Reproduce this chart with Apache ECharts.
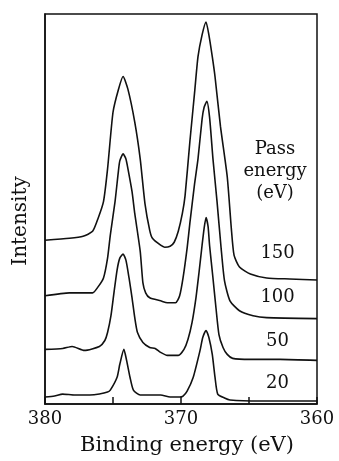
<!DOCTYPE html>
<html>
<head>
<meta charset="utf-8">
<script src="https://cdn.jsdelivr.net/npm/echarts@6/dist/echarts.min.js"></script>
<style>
  html, body { margin: 0; padding: 0; background: #fff; }
  #chart { width: 339px; height: 461px; }
</style>
</head>
<body>
<div id="chart"></div>
<script>
// Ag 3d spectra recorded at four analyser pass energies (stacked, offset intensity)
const passEnergies = ['150', '100', '50', '20'];

const energy150 = [380.0, 378.2, 377.2, 376.5, 376.1, 375.7, 375.4, 375.0, 374.6, 374.26, 373.9, 373.4, 373.0, 372.65, 372.3, 372.1, 371.5, 371.2, 370.8, 370.5, 370.2, 369.9, 369.7, 369.35, 369.0, 368.75, 368.45, 368.16, 367.95, 367.7, 367.5, 367.1, 366.6, 366.3, 366.1, 365.7, 364.9, 363.7, 362.0, 360.0];
const counts150 = [165, 167, 169, 174, 187, 204, 237, 294, 317, 330, 317, 284, 247, 202, 175, 167, 160, 158, 159, 163, 174, 192, 210, 264, 314, 350, 372, 385, 372, 350, 330, 280, 229, 177, 150, 138, 131, 127, 126, 125];

const energy100 = [380.0, 378.2, 376.5, 376.1, 375.7, 375.4, 375.2, 374.85, 374.6, 374.5, 374.26, 374.05, 373.9, 373.6, 373.4, 373.0, 372.8, 372.6, 372.3, 371.5, 371.0, 370.4, 370.1, 369.85, 369.55, 369.35, 369.0, 368.75, 368.45, 368.3, 368.1, 367.9, 367.65, 367.35, 367.05, 366.8, 366.4, 365.7, 364.7, 363.7, 360.0];
const counts100 = [109, 112, 112, 118, 127, 147, 170, 204, 235, 245, 252, 247, 237, 214, 192, 154, 122, 112, 107, 104, 102, 102, 109, 127, 157, 182, 222, 247, 287, 299, 305, 289, 247, 204, 157, 124, 104, 94, 89, 87, 86];

const energy50 = [380.0, 378.7, 378.0, 377.1, 376.0, 375.6, 375.4, 375.15, 374.93, 374.7, 374.5, 374.26, 374.05, 373.82, 373.6, 373.4, 373.2, 372.8, 372.3, 371.9, 371.5, 371.0, 370.2, 369.78, 369.49, 369.19, 368.9, 368.68, 368.45, 368.3, 368.16, 368.01, 367.9, 367.65, 367.43, 367.21, 366.91, 366.6, 366.2, 364.9, 362.72, 360.0];
const counts50 = [55, 56, 58, 54, 58, 64, 72, 89, 112, 135, 147, 151, 145, 127, 107, 87, 72, 62, 57, 56, 52, 49, 49, 55, 65, 82, 107, 132, 160, 177, 188, 179, 160, 127, 97, 70, 57, 50, 46, 45, 45, 44];

const energy20 = [380.0, 379.3, 378.7, 377.8, 376.7, 376.0, 375.4, 375.2, 374.7, 374.5, 374.2, 374.0, 373.75, 373.5, 373.0, 372.3, 371.5, 370.8, 370.1, 369.85, 369.55, 369.1, 368.6, 368.4, 368.16, 367.95, 367.7, 367.5, 367.3, 366.8, 366.4, 364.2, 360.0];
const counts20 = [7, 8, 10, 9, 9, 10, 12, 14, 27, 40, 55, 44, 27, 14, 9, 9, 9, 7, 7, 8, 13, 27, 54, 67, 74, 67, 50, 27, 10, 6, 4, 3, 3];

// where each pass-energy tag sits (binding energy, offset intensity)
const tagEnergy = 362.9;
const tagLevels = [152, 107, 63, 21];

const xLabelled = [380, 370, 360];

const spectra = [
  [energy150, counts150],
  [energy100, counts100],
  [energy50, counts50],
  [energy20, counts20]
];

const INK = '#111';
const FONT = 'DejaVu Serif';

const chart = echarts.init(document.getElementById('chart'), null, { renderer: 'canvas' });

const series = spectra.map(([e, c], i) => ({
  name: passEnergies[i],
  type: 'line',
  showSymbol: false,
  smooth: 0.2,
  silent: true,
  lineStyle: { color: INK, width: 1.6 },
  data: e.map((v, k) => [v, c[k]]),
  markPoint: {
    symbol: 'circle',
    symbolSize: 1,
    itemStyle: { color: 'rgba(0,0,0,0)' },
    label: {
      show: true,
      position: 'inside',
      formatter: passEnergies[i],
      color: INK,
      fontFamily: FONT,
      fontSize: 18
    },
    data: [{ coord: [tagEnergy, tagLevels[i]] }]
  }
}));

chart.setOption({
  animation: false,
  backgroundColor: '#fff',
  grid: {
    left: 45, right: 22, top: 14, bottom: 54,
    show: true, borderColor: INK, borderWidth: 1.5, backgroundColor: 'transparent'
  },
  xAxis: {
    type: 'value',
    min: 360, max: 380, interval: 5, inverse: true,
    axisLine: { lineStyle: { color: INK, width: 1.5 } },
    axisTick: { inside: true, length: 7, lineStyle: { color: INK, width: 1.5 } },
    splitLine: { show: false },
    axisLabel: {
      showMinLabel: true, showMaxLabel: true,
      margin: 6,
      color: INK, fontFamily: FONT, fontSize: 18,
      formatter: v => (xLabelled.indexOf(v) >= 0 ? String(v) : '')
    },
    name: 'Binding energy (eV)',
    nameLocation: 'middle',
    nameGap: 31,
    nameTextStyle: { color: INK, fontFamily: FONT, fontSize: 21, padding: [0, 0, 0, 12] }
  },
  yAxis: {
    type: 'value',
    min: 0, max: 393,
    axisLine: { show: true, lineStyle: { color: INK, width: 1.5 } },
    axisTick: { show: false },
    axisLabel: { show: false },
    splitLine: { show: false },
    name: 'Intensity',
    nameLocation: 'middle',
    nameGap: 14,
    nameRotate: 90,
    nameTextStyle: { color: INK, fontFamily: FONT, fontSize: 20, padding: [0, 24, 0, 0] }
  },
  graphic: [{
    type: 'text',
    x: 275, y: 138,
    style: {
      text: 'Pass\nenergy\n(eV)',
      fill: INK,
      font: '18px "DejaVu Serif"',
      lineHeight: 22,
      align: 'center',
      verticalAlign: 'top'
    }
  }],
  series: series
});
</script>
</body>
</html>
